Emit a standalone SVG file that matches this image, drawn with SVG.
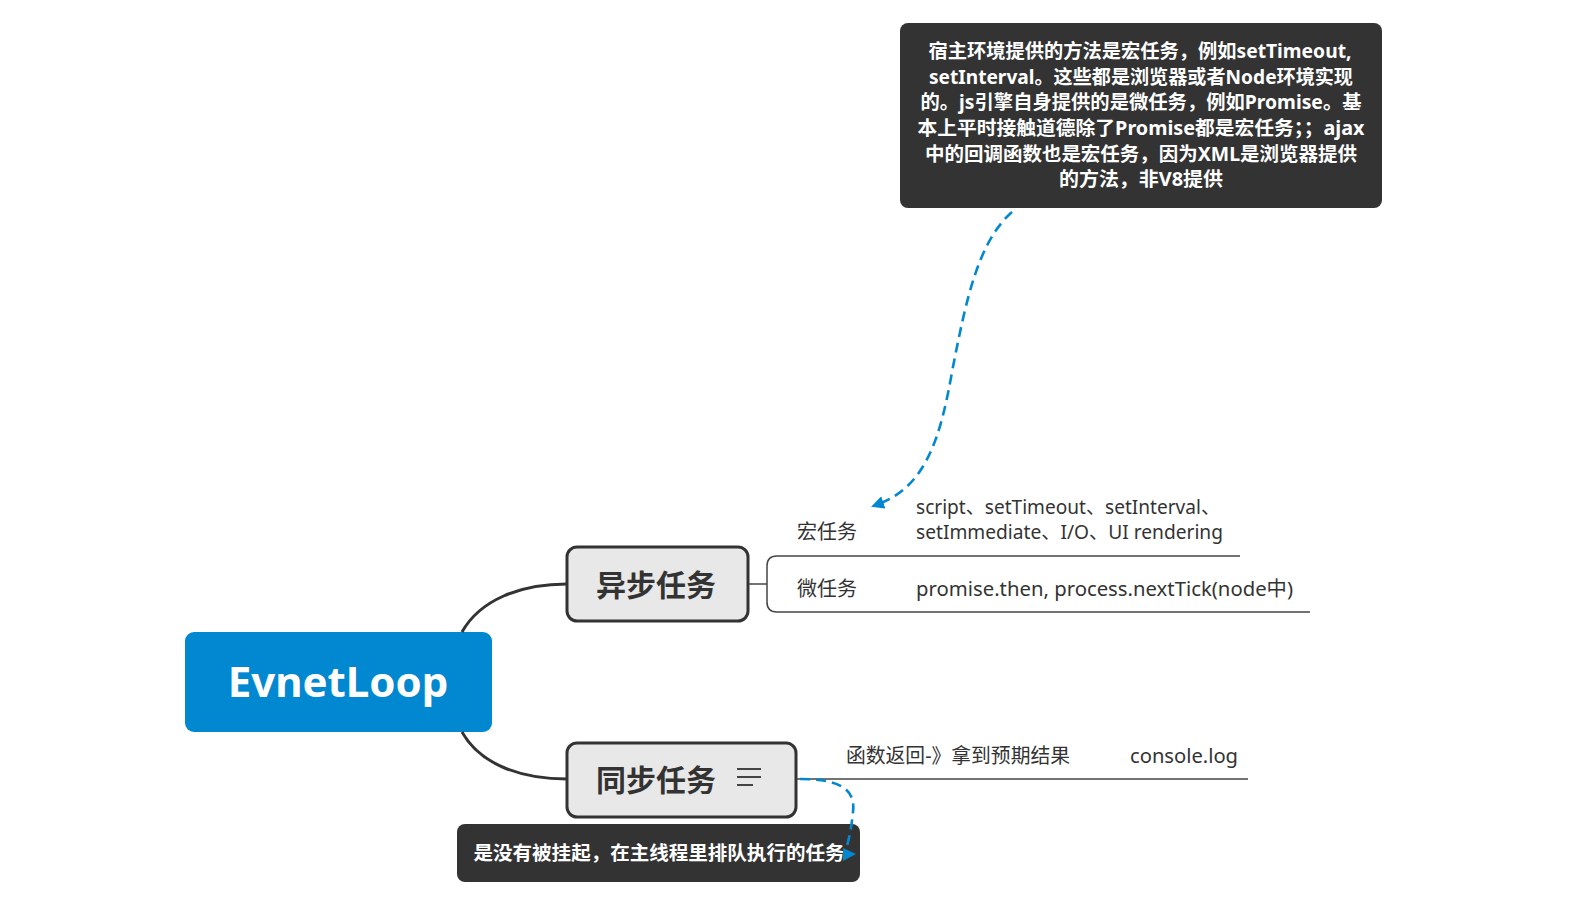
<svg xmlns="http://www.w3.org/2000/svg" width="1576" height="910" viewBox="0 0 1576 910">
<style>
.conn{fill:none;stroke:#333;stroke-width:3}
.sub{fill:none;stroke:#444;stroke-width:1.5}
.dash{fill:none;stroke:#0288d1;stroke-width:2.6;stroke-dasharray:10 6}
.t{font-family:"Noto Sans","Noto Sans CJK SC",sans-serif;}
.lbl{font-size:20px;fill:#333}
.note{font-size:19px;font-weight:bold;fill:#fff;text-anchor:middle}
.topic{fill:#e8e8e8;stroke:#333;stroke-width:3}
.tt{font-size:30px;font-weight:bold;fill:#333}
</style>
<defs>
<marker id="arr" viewBox="0 0 10 10" refX="6" refY="5" markerWidth="5" markerHeight="5" orient="auto" markerUnits="strokeWidth">
<path d="M0,0 L10,5 L0,10 z" fill="#0288d1"/>
</marker>
</defs>
<g id="root">
<rect x="185" y="632" width="307" height="100" rx="9" fill="#0288d1"/>
<text class="t" x="338" y="697" font-size="42" font-weight="bold" fill="#fff" text-anchor="middle">EvnetLoop</text>
</g>
<g id="async">
<rect class="topic" x="567" y="547" width="181" height="74" rx="10"/>
<text class="t tt" x="656" y="596" text-anchor="middle">异步任务</text>
</g>
<g id="sync">
<rect class="topic" x="567" y="743" width="229" height="74" rx="10"/>
<text class="t tt" x="656" y="791" text-anchor="middle">同步任务</text>
<path d="M737 769 H761 M737 777 H761 M737 785 H753" stroke="#444" stroke-width="2" fill="none"/>
</g>
<g id="macro">
<text class="t lbl" x="797" y="539">宏任务</text>
<text class="t lbl" x="916" y="514" textLength="304" lengthAdjust="spacingAndGlyphs">script、setTimeout、setInterval、</text>
<text class="t lbl" x="916" y="539" textLength="307" lengthAdjust="spacingAndGlyphs">setImmediate、I/O、UI rendering</text>
</g>
<g id="micro">
<text class="t lbl" x="797" y="596">微任务</text>
<text class="t lbl" x="916" y="596" textLength="377" lengthAdjust="spacingAndGlyphs">promise.then, process.nextTick(node中)</text>
</g>
<g id="syncdetail">
<text class="t lbl" x="846" y="763" textLength="224" lengthAdjust="spacingAndGlyphs">函数返回-》拿到预期结果</text>
<text class="t lbl" x="1130" y="763" textLength="108" lengthAdjust="spacingAndGlyphs">console.log</text>
</g>
<g id="note-top">
<rect x="900" y="23" width="482" height="185" rx="8" fill="#333"/>
<text class="t note" x="1140" y="58" textLength="423" lengthAdjust="spacingAndGlyphs">宿主环境提供的方法是宏任务，例如setTimeout,</text>
<text class="t note" x="1141" y="84" textLength="424" lengthAdjust="spacingAndGlyphs">setInterval。这些都是浏览器或者Node环境实现</text>
<text class="t note" x="1141" y="109" textLength="441" lengthAdjust="spacingAndGlyphs">的。js引擎自身提供的是微任务，例如Promise。基</text>
<text class="t note" x="1141" y="135" textLength="447" lengthAdjust="spacingAndGlyphs">本上平时接触道德除了Promise都是宏任务；；ajax</text>
<text class="t note" x="1141" y="161" textLength="432" lengthAdjust="spacingAndGlyphs">中的回调函数也是宏任务，因为XML是浏览器提供</text>
<text class="t note" x="1141" y="186" textLength="164" lengthAdjust="spacingAndGlyphs">的方法，非V8提供</text>
</g>
<g id="note-bottom">
<rect x="457" y="824" width="403" height="58" rx="8" fill="#333"/>
<text class="t note" x="659" y="860" textLength="371" lengthAdjust="spacingAndGlyphs">是没有被挂起，在主线程里排队执行的任务</text>
</g>
<g id="connectors">
<path class="conn" d="M462 632 C480 600, 520 584, 567 584"/>
<path class="conn" d="M462 732 C480 764, 520 779, 567 779"/>
<path class="sub" d="M749 584 L767 584"/>
<path class="sub" d="M1240 556 L777 556 Q767 556 767 566 L767 602 Q767 612 777 612 L1310 612"/>
<path class="sub" d="M797 779 L1248 779"/>
<path class="dash" d="M1012 212 C978 242, 966 300, 952 372 C940 440, 925 488, 876 505" marker-end="url(#arr)"/>
<path class="dash" d="M800 779 C838 779, 856 788, 853 812 C851 832, 848 842, 846 850"/>
<polygon points="843,848 856,854 843,861" fill="#0288d1"/>
</g>
</svg>
